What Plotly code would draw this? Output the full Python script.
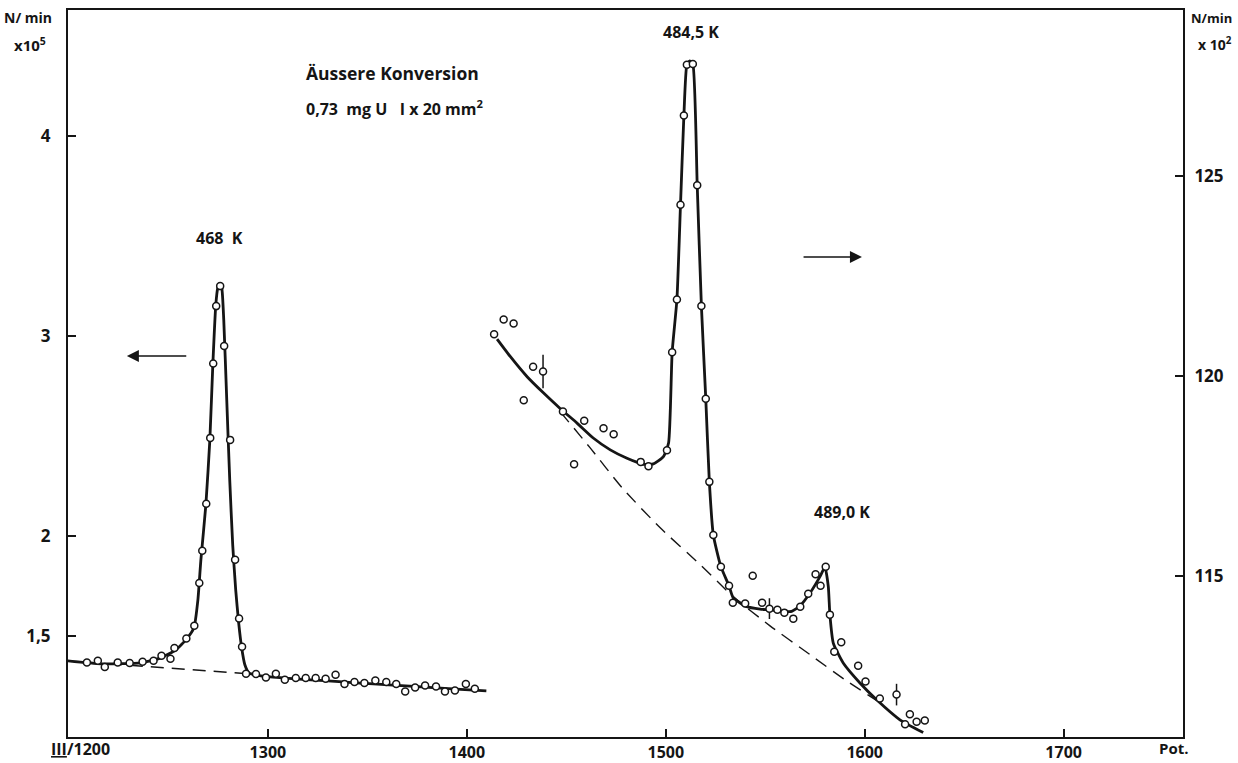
import plotly.graph_objects as go

# ---------------- data ----------------
# left peak (468 K), left axis  N/min x10^5
left_x = [1209, 1214.5, 1218, 1224.5, 1230.5, 1237, 1242.5, 1246.5, 1251, 1253,
          1259, 1263, 1265.5, 1267, 1269, 1271, 1272.5, 1274, 1276, 1278,
          1281, 1283.5, 1285.5, 1287, 1289, 1294, 1299, 1304, 1308.5, 1314,
          1319, 1324, 1329, 1334, 1338.5, 1343.5, 1348.5, 1354, 1359.5, 1364.5,
          1369, 1374, 1379, 1384.5, 1389, 1394, 1399.5, 1404]
left_y = [1.367, 1.375, 1.344, 1.367, 1.364, 1.370, 1.375, 1.400, 1.385, 1.439,
          1.487, 1.550, 1.764, 1.925, 2.160, 2.490, 2.862, 3.149, 3.249, 2.950,
          2.480, 1.880, 1.587, 1.445, 1.310, 1.309, 1.292, 1.310, 1.280, 1.289,
          1.289, 1.289, 1.285, 1.305, 1.259, 1.269, 1.264, 1.277, 1.269, 1.259,
          1.222, 1.242, 1.252, 1.247, 1.222, 1.227, 1.259, 1.235]

left_curve_x = [1199, 1216.1, 1236.1, 1246.2, 1253.7, 1259.2, 1262.8, 1264.8, 1266.3,
                1268.8, 1270.8, 1272.3, 1273.8, 1274.8, 1275.8, 1276.8, 1277.8, 1279.3,
                1280.8, 1282.3, 1283.8, 1285.3, 1286.8, 1288.4, 1290.4, 1296.4, 1409.8]
left_curve_y = [1.375, 1.36, 1.365, 1.39, 1.43, 1.485, 1.54, 1.68, 1.88,
                2.155, 2.48, 2.855, 3.155, 3.24, 3.26, 3.24, 3.08, 2.68,
                2.28, 1.955, 1.73, 1.565, 1.44, 1.355, 1.315, 1.30, 1.225]

left_base_x = [1199, 1290.4]
left_base_y = [1.375, 1.31]

# right peaks (484,5 K / 489,0 K), right axis  N/min x10^2
right_x = [1413.7, 1418.5, 1423.5, 1428.6, 1433.3, 1438.3, 1448.3, 1453.9, 1459.0, 1468.7,
           1473.8, 1487.4, 1491.3, 1500.6, 1503.2, 1505.6, 1507.4, 1509.1, 1510.6, 1513.6,
           1515.8, 1517.9, 1520.1, 1521.9, 1523.9, 1527.7, 1531.8, 1533.7, 1539.9, 1543.7,
           1548.4, 1552.1, 1556.1, 1559.6, 1564.1, 1567.6, 1571.6, 1575.3, 1577.8, 1580.4,
           1582.5, 1584.7, 1588.2, 1596.7, 1600.4, 1607.6, 1616.0, 1620.3, 1622.7, 1626.1,
           1630.2]
right_y = [121.04, 121.41, 121.31, 119.39, 120.23, 120.11, 119.11, 117.79, 118.88, 118.69,
           118.54, 117.85, 117.74, 118.14, 120.59, 121.91, 124.28, 126.51, 127.78, 127.80,
           124.77, 121.75, 119.43, 117.35, 116.02, 115.23, 114.75, 114.33, 114.31, 115.0,
           114.33, 114.18, 114.15, 114.08, 113.93, 114.23, 114.55, 115.04, 114.75, 115.23,
           114.03, 113.10, 113.34, 112.75, 112.36, 111.93, 112.03, 111.29, 111.54, 111.35,
           111.38]
right_err = [0, 0, 0, 0, 0, 0.42, 0, 0, 0, 0,
             0, 0, 0, 0, 0, 0, 0, 0, 0, 0,
             0, 0, 0, 0, 0, 0, 0, 0, 0, 0,
             0, 0.26, 0, 0, 0, 0, 0, 0, 0, 0,
             0, 0, 0, 0, 0, 0, 0.27, 0, 0, 0,
             0]

right_curve_x = [1415.2, 1421.9, 1430.3, 1438.6, 1447.0, 1455.4, 1463.7, 1472.1, 1480.5, 1488.8,
                 1493.8, 1498.8, 1501.4, 1503.2, 1505.6, 1507.4, 1509.1, 1510.6, 1512.1, 1513.6,
                 1515.8, 1517.9, 1520.1, 1521.9, 1523.9, 1527.7, 1531.8, 1534.0, 1540.7, 1547.4,
                 1552.4, 1559.1, 1563.3, 1567.5, 1572.5, 1577.5, 1580.0, 1581.7, 1582.5, 1584.2,
                 1589.2, 1597.6, 1606.0, 1617.7, 1629.4]
right_curve_y = [120.92, 120.48, 119.98, 119.57, 119.18, 118.82, 118.44, 118.15, 117.94, 117.79,
                 117.80, 117.98, 118.32, 120.59, 121.91, 124.28, 126.51, 127.78, 127.88, 127.80,
                 124.77, 121.75, 119.43, 117.35, 116.02, 115.23, 114.75, 114.44, 114.23, 114.17,
                 114.15, 114.11, 114.11, 114.25, 114.57, 114.98, 115.22, 114.73, 114.03, 113.32,
                 112.82, 112.32, 111.90, 111.40, 111.08]

right_base_x = [1447.0, 1462.0, 1478.1, 1497.2, 1517.3, 1533.9, 1552.4, 1572.5, 1590.1, 1606.1]
right_base_y = [119.10, 118.20, 117.20, 116.20, 115.28, 114.48, 113.75, 113.03, 112.40, 111.88]

x_ticks = [1200, 1300, 1400, 1500, 1600, 1700]
x_ticktext = ["", "1300", "1400", "1500", "1600", "1700"]
left_ticks = [1.5, 2, 3, 4]
left_ticktext = ["1,5", "2", "3", "4"]
right_ticks = [115, 120, 125]
right_ticktext = ["115", "120", "125"]

INK = "#151515"
FONT = "Open Sans"

fig = go.Figure()

# baselines (dashed)
fig.add_trace(go.Scatter(x=left_base_x, y=left_base_y, mode="lines",
                         line=dict(color=INK, width=1.4, dash="13px,8px"),
                         hoverinfo="skip", showlegend=False))
fig.add_trace(go.Scatter(x=right_base_x, y=right_base_y, mode="lines", yaxis="y2",
                         line=dict(color=INK, width=1.4, dash="13px,8px", shape="spline", smoothing=0.6),
                         hoverinfo="skip", showlegend=False))
# fitted curves
fig.add_trace(go.Scatter(x=left_curve_x, y=left_curve_y, mode="lines",
                         line=dict(color=INK, width=2.8, shape="spline", smoothing=0.5),
                         hoverinfo="skip", showlegend=False))
fig.add_trace(go.Scatter(x=right_curve_x, y=right_curve_y, mode="lines", yaxis="y2",
                         line=dict(color=INK, width=2.8, shape="spline", smoothing=0.5),
                         hoverinfo="skip", showlegend=False))
# measured points
fig.add_trace(go.Scatter(x=left_x, y=left_y, mode="markers",
                         marker=dict(symbol="circle", size=7, color="white",
                                     line=dict(color=INK, width=1.5)),
                         showlegend=False))
fig.add_trace(go.Scatter(x=right_x, y=right_y, mode="markers", yaxis="y2",
                         error_y=dict(type="data", array=right_err, visible=True,
                                      width=0, thickness=1.5, color=INK),
                         marker=dict(symbol="circle", size=7, color="white",
                                     line=dict(color=INK, width=1.5)),
                         showlegend=False))

tickfont = dict(family=FONT, size=17, color=INK, weight="bold")
xtickfont = dict(family=FONT, size=16, color=INK, weight="bold")

fig.update_layout(
    width=1238, height=763,
    margin=dict(l=68, r=55, t=10, b=26),
    paper_bgcolor="white", plot_bgcolor="white",
    font=dict(family=FONT, color=INK),
    xaxis=dict(range=[1199.5, 1760], tickvals=x_ticks, ticktext=x_ticktext,
               ticks="inside", ticklen=8, tickwidth=2, tickcolor=INK,
               showline=True, linewidth=2, linecolor=INK, mirror=True,
               showgrid=False, zeroline=False, tickfont=xtickfont,
               ticklabelstandoff=0, automargin=False),
    yaxis=dict(range=[0.994, 4.63], tickvals=left_ticks, ticktext=left_ticktext,
               ticks="inside", ticklen=8, tickwidth=2, tickcolor=INK,
               showline=True, linewidth=2, linecolor=INK,
               showgrid=False, zeroline=False, tickfont=tickfont,
               ticklabelstandoff=12, automargin=False),
    yaxis2=dict(range=[110.97, 129.15], tickvals=right_ticks, ticktext=right_ticktext,
                overlaying="y", side="right",
                ticks="inside", ticklen=8, tickwidth=2, tickcolor=INK,
                showline=True, linewidth=2, linecolor=INK,
                showgrid=False, zeroline=False, tickfont=tickfont,
                ticklabelstandoff=6, automargin=False),
)

def ann(text, x, y, size=16, yref="y", xanchor="center", weight="bold"):
    fig.add_annotation(text=text, x=x, y=y, xref="x", yref=yref, showarrow=False,
                       xanchor=xanchor, yanchor="middle",
                       font=dict(family=FONT, size=size, color=INK, weight=weight))

def pann(text, x, y, size=16, xanchor="center"):
    fig.add_annotation(text=text, x=x, y=y, xref="paper", yref="paper", showarrow=False,
                       xanchor=xanchor, yanchor="middle",
                       font=dict(family=FONT, size=size, color=INK, weight="bold"))

pann("<u>III</u>/1200", 0.011, -0.017, size=16)
pann("Pot.", 0.992, -0.015, size=15)
pann("N/ min", -0.036, 0.989, size=14)
pann("x10<sup>5</sup>", -0.034, 0.953, size=15)
pann("N/min", 1.0455, 0.989, size=13, xanchor="right")
pann("x 10<sup>2</sup>", 1.0455, 0.953, size=14, xanchor="right")

ann("Äussere Konversion", 1318.0, 4.315, size=17.5, xanchor="left")
ann("0,73  mg U   I x 20 mm<sup>2</sup>", 1318.0, 4.14, size=16, xanchor="left")
ann("468  K", 1275.8, 3.49)
ann("484,5 K", 1512.8, 128.6, yref="y2")
ann("489,0 K", 1588.6, 116.6, yref="y2")

# direction arrows
fig.add_annotation(x=1229.1, y=2.9, ax=1259.7, ay=2.9, xref="x", yref="y",
                   axref="x", ayref="y", showarrow=True, arrowhead=2,
                   arrowsize=1.6, arrowwidth=1.5, arrowcolor=INK, text="")
fig.add_annotation(x=1598.6, y=122.975, ax=1568.5, ay=122.975, xref="x", yref="y2",
                   axref="x", ayref="y2", showarrow=True, arrowhead=2,
                   arrowsize=1.6, arrowwidth=1.5, arrowcolor=INK, text="")

fig.write_html("out.html")
